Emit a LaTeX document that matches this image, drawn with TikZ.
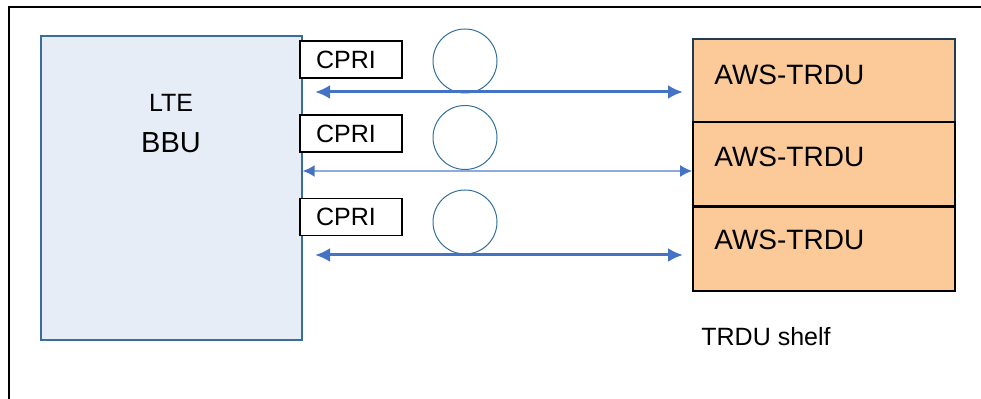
\documentclass[tikz,border=0pt]{standalone}
\usepackage{fontspec}
\setmainfont{Liberation Sans}
\usepackage{xcolor}
\usepackage{tikz}
\usetikzlibrary{arrows.meta,positioning,calc}
\definecolor{bbufill}{HTML}{E6EDF7}
\definecolor{bbuedge}{HTML}{3A6E9A}
\definecolor{trdufill}{HTML}{FBCA98}
\definecolor{trdutop}{HTML}{1F3B57}
\definecolor{linkblue}{HTML}{4472C4}
\definecolor{linklight}{HTML}{8FAADC}
\definecolor{fibreedge}{HTML}{31709C}
\tikzset{
  bbublock/.style={draw=bbuedge,fill=bbufill,line width=0.6pt,
    minimum width=130.5pt,minimum height=152pt,inner sep=0pt},
  cpriblock/.style={draw=black,fill=white,line width=0.8pt,
    minimum width=51pt,minimum height=18.5pt,inner sep=0pt,font=\fontsize{12.5}{14}\selectfont},
  trdublock/.style={draw=black,fill=trdufill,line width=0.8pt,
    minimum width=131pt,minimum height=42pt,inner sep=0pt},
  fibre/.style={circle,draw=fibreedge,line width=0.5pt,minimum size=32pt,inner sep=0pt},
  boxtext/.style={inner sep=0pt,font=\fontsize{14}{16}\selectfont},
  linkarrow/.style={{Latex[length=7.5pt,width=7pt]}-{Latex[length=7.5pt,width=7pt]},
    line width=1.5pt,draw=linkblue},
  thinarrow/.style={{Latex[length=6pt,width=6pt,color=linkblue]}-{Latex[length=6pt,width=6pt,color=linkblue]},
    line width=1pt,draw=linklight}
}
\begin{document}
\begin{tikzpicture}[x=0.5pt,y=-0.5pt]
\useasboundingbox (0,0) rectangle (981,399);
% outer frame
\draw[line width=0.8pt] (9,399) -- (9,7) -- (981,7);
% baseband unit
\node[bbublock] (bbu) at (171.5,188) {};
\node[inner sep=0pt,font=\fontsize{12.5}{14}\selectfont] (lte) at (171,103) {LTE};
\node[inner sep=0pt,font=\fontsize{14.5}{16}\selectfont] (bbuname) at (171,143) {BBU};
% CPRI labels and fibre loops
\node[cpriblock] (cpri1) at (351,59.5) {\hspace*{-5pt}CPRI};
\node[cpriblock] (cpri2) at (351,133.5) {\hspace*{-5pt}CPRI};
\node[cpriblock] (cpri3) at (351,217) {\hspace*{-5pt}CPRI};
\node[fibre] (loop1) at (465,61) {};
\node[fibre] (loop2) at (465,137.5) {};
\node[fibre] (loop3) at (465,222) {};
% TRDU shelf
\node[trdublock,draw=trdutop] (trdu1) at (824,81) {};
\node[trdublock] (trdu2) at (824,164) {};
\node[trdublock] (trdu3) at (824,249) {};
\node[boxtext,anchor=west] (name1) at (714,75) {AWS-TRDU};
\node[boxtext,anchor=west] (name2) at (714,157) {AWS-TRDU};
\node[boxtext,anchor=west] (name3) at (714,240) {AWS-TRDU};
\node[inner sep=0pt,anchor=west,font=\fontsize{12.5}{14}\selectfont] (shelf) at (701,337) {TRDU shelf};
% links
\coordinate (a1l) at (315,92);
\coordinate (a1r) at (683,92);
\coordinate (a3l) at (315,255);
\coordinate (a3r) at (683,255);
\draw[linkarrow] (a1l) -- (a1r);
\draw[thinarrow] (bbu.east |- 0,171) -- (trdu2.west |- 0,171);
\draw[linkarrow] (a3l) -- (a3r);
\end{tikzpicture}
\end{document}
